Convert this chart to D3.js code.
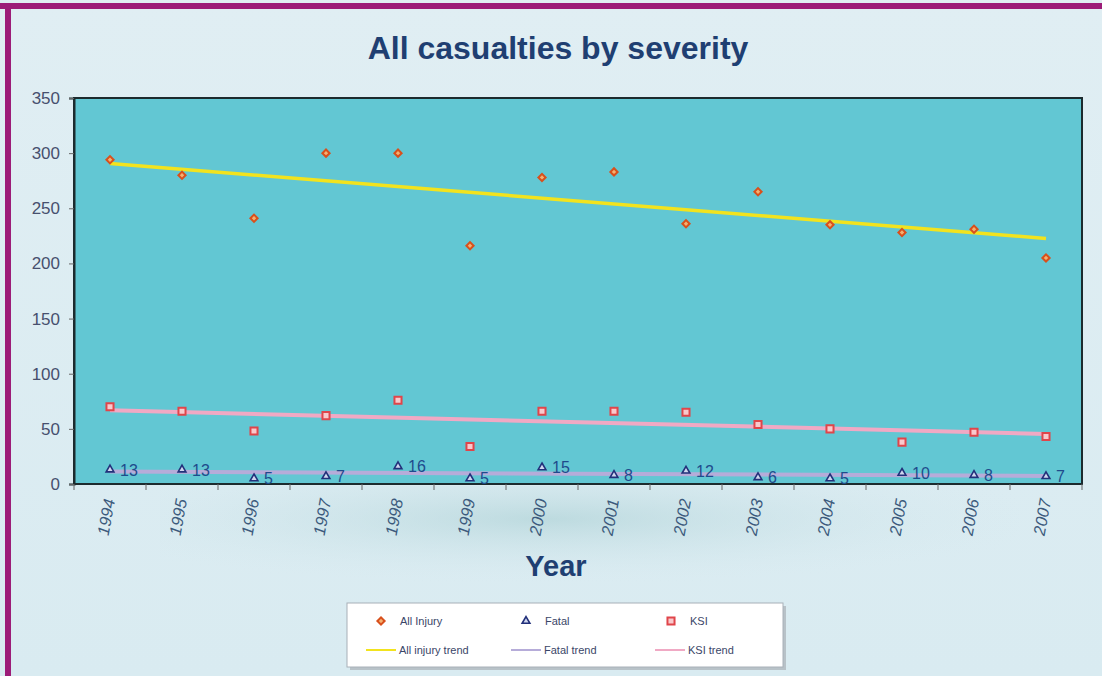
<!DOCTYPE html>
<html>
<head>
<meta charset="utf-8">
<script src="https://cdn.jsdelivr.net/npm/d3@7"></script>
<style>
  html, body { margin: 0; padding: 0; background: #ffffff; }
  svg { display: block; }
</style>
</head>
<body>
<svg id="chart" width="1102" height="676"></svg>
<script>
// Casualty counts per year
const years = ["1994","1995","1996","1997","1998","1999","2000","2001","2002","2003","2004","2005","2006","2007"];
const allInjury = [294, 280, 241, 300, 300, 216, 278, 283, 236, 265, 235, 228, 231, 205];
const ksi       = [70, 66, 48, 62, 76, 34, 66, 66, 65, 54, 50, 38, 47, 43];
const fatal     = [13, 13, 5, 7, 16, 5, 15, 8, 12, 6, 5, 10, 8, 7];
const yTicks    = [0, 50, 100, 150, 200, 250, 300, 350];

const svg = d3.select("#chart");
const W = 1102, H = 676;
const plot = { left: 74, right: 1082, top: 98, bottom: 484 };

// Page background with frame
const defs = svg.append("defs");
const bg = defs.append("linearGradient").attr("id", "bg").attr("x1", 0).attr("y1", 0).attr("x2", 0).attr("y2", 1);
bg.append("stop").attr("offset", "0%").attr("stop-color", "#e0eef3");
bg.append("stop").attr("offset", "100%").attr("stop-color", "#d9ebf1");
svg.append("rect").attr("width", W).attr("height", H).attr("fill", "url(#bg)");

// soft shade band under the x axis
const shade = defs.append("radialGradient").attr("id", "shade").attr("cx", "45%").attr("cy", "30%").attr("r", "60%");
shade.append("stop").attr("offset", "0%").attr("stop-color", "#a9cfd3").attr("stop-opacity", 0.6);
shade.append("stop").attr("offset", "100%").attr("stop-color", "#d9ebf1").attr("stop-opacity", 0);
svg.append("rect").attr("x", 160).attr("y", 486).attr("width", 860).attr("height", 110).attr("fill", "url(#shade)");

svg.append("rect").attr("x", 0).attr("y", 3).attr("width", W).attr("height", 6).attr("fill", "#9c1c78");
svg.append("rect").attr("x", 5).attr("y", 3).attr("width", 6).attr("height", H).attr("fill", "#9c1c78");

// Title
svg.append("text")
  .attr("x", 558).attr("y", 59)
  .attr("text-anchor", "middle")
  .attr("font-family", "Liberation Sans, Arial, sans-serif")
  .attr("font-weight", "bold").attr("font-size", 32)
  .attr("fill", "#1f3f72")
  .text("All casualties by severity");

// Scales
const x = d3.scaleBand().domain(years).range([plot.left, plot.right]);
const y = d3.scaleLinear().domain([0, 350]).range([plot.bottom, plot.top]);
const cx = d => x(d) + x.bandwidth() / 2;

// Plot area
svg.append("rect")
  .attr("x", plot.left).attr("y", plot.top)
  .attr("width", plot.right - plot.left).attr("height", plot.bottom - plot.top)
  .attr("fill", "#62c7d3").attr("stroke", "#1c2b2e").attr("stroke-width", 2);

// Y axis
const yAxis = svg.append("g")
  .attr("transform", `translate(${plot.left},0)`)
  .call(d3.axisLeft(y).tickValues(yTicks).tickSize(5).tickPadding(9));
yAxis.select(".domain").attr("stroke", "#1c2b2e").attr("stroke-width", 2);
yAxis.selectAll(".tick line").attr("stroke", "#666");
yAxis.selectAll("text")
  .attr("font-family", "Liberation Sans, Arial, sans-serif")
  .attr("font-size", 17).attr("fill", "#47506e");

// X axis: ticks on band boundaries
const xAxis = svg.append("g").attr("transform", `translate(0,${plot.bottom})`);
xAxis.append("line").attr("x1", plot.left).attr("x2", plot.right)
  .attr("stroke", "#1c2b2e").attr("stroke-width", 2);
const bounds = years.map(d => x(d)).concat([plot.right]);
xAxis.selectAll(".bt").data(bounds).join("line")
  .attr("x1", d => d).attr("x2", d => d).attr("y1", 0).attr("y2", 6)
  .attr("stroke", "#666");
xAxis.selectAll(".yl").data(years).join("text")
  .attr("transform", d => `translate(${cx(d) + 5},${16}) rotate(-80)`)
  .attr("text-anchor", "end")
  .attr("font-family", "Liberation Sans, Arial, sans-serif")
  .attr("font-style", "italic")
  .attr("font-size", 16.5).attr("fill", "#3c5a7c")
  .text(d => d);

svg.append("text")
  .attr("x", 556).attr("y", 576)
  .attr("text-anchor", "middle")
  .attr("font-family", "Liberation Sans, Arial, sans-serif")
  .attr("font-weight", "bold").attr("font-size", 29)
  .attr("fill", "#1f3f72")
  .text("Year");

// Least-squares trend of a series across the year index
function trend(vals) {
  const n = vals.length;
  const mx = d3.mean(vals, (_, i) => i), my = d3.mean(vals);
  let sxy = 0, sxx = 0;
  vals.forEach((v, i) => { sxy += (i - mx) * (v - my); sxx += (i - mx) * (i - mx); });
  const b = sxy / sxx, a = my - b * mx;
  return [[years[0], a], [years[n - 1], a + b * (n - 1)]];
}
const line = d3.line().x(d => cx(d[0])).y(d => y(d[1]));

svg.append("path").datum(trend(fatal)).attr("d", line)
  .attr("stroke", "#b6acd9").attr("stroke-width", 4).attr("fill", "none");
svg.append("path").datum(trend(ksi)).attr("d", line)
  .attr("stroke", "#f0a9c4").attr("stroke-width", 4).attr("fill", "none");
svg.append("path").datum(trend(allInjury)).attr("d", line)
  .attr("stroke", "#f2e31e").attr("stroke-width", 3.5).attr("fill", "none");

// Markers
const diamond = d3.symbol().type(d3.symbolSquare).size(26);
const square = d3.symbol().type(d3.symbolSquare).size(50);
const tri = d3.symbol().type(d3.symbolTriangle).size(26);

svg.append("g").selectAll("path").data(allInjury).join("path")
  .attr("d", diamond)
  .attr("transform", (d, i) => `translate(${cx(years[i])},${y(d)}) rotate(45)`)
  .attr("fill", "#f5b070").attr("stroke", "#d8501c").attr("stroke-width", 2);

svg.append("g").selectAll("path").data(ksi).join("path")
  .attr("d", square)
  .attr("transform", (d, i) => `translate(${cx(years[i])},${y(d)})`)
  .attr("fill", "#f9c9cc").attr("stroke", "#e0454a").attr("stroke-width", 2);

svg.append("g").selectAll("path").data(fatal).join("path")
  .attr("d", tri)
  .attr("transform", (d, i) => `translate(${cx(years[i])},${y(d)})`)
  .attr("fill", "#cfd6ee").attr("stroke", "#22307a").attr("stroke-width", 1.6);

svg.append("g").selectAll("text").data(fatal).join("text")
  .attr("x", (d, i) => cx(years[i]) + 10)
  .attr("y", d => y(d) + 6)
  .attr("font-family", "Liberation Sans, Arial, sans-serif")
  .attr("font-size", 16).attr("fill", "#1f4b8c")
  .text(d => d);

// Legend
const lg = svg.append("g");
lg.append("rect").attr("x", 350).attr("y", 606).attr("width", 436).attr("height", 64)
  .attr("fill", "#b8c2c8");
lg.append("rect").attr("x", 347).attr("y", 603).attr("width", 436).attr("height", 64)
  .attr("fill", "#ffffff").attr("stroke", "#a8b0b8").attr("stroke-width", 1);

const legendFont = { family: "Liberation Sans, Arial, sans-serif", size: 11, color: "#3a4668" };
const legendMarks = [
  { label: "All Injury", x: 381, sym: diamond, rot: 45, fill: "#f5b070", stroke: "#d8501c", sw: 2 },
  { label: "Fatal", x: 526, sym: tri, rot: 0, fill: "#cfd6ee", stroke: "#22307a", sw: 1.6 },
  { label: "KSI", x: 671, sym: square, rot: 0, fill: "#f9c9cc", stroke: "#e0454a", sw: 2 }
];
legendMarks.forEach(m => {
  lg.append("path").attr("d", m.sym).attr("transform", `translate(${m.x},${621}) rotate(${m.rot})`)
    .attr("fill", m.fill).attr("stroke", m.stroke).attr("stroke-width", m.sw);
  lg.append("text").attr("x", m.x + 19).attr("y", 625)
    .attr("font-family", legendFont.family).attr("font-size", legendFont.size)
    .attr("fill", legendFont.color).text(m.label);
});
const legendLines = [
  { label: "All injury trend", x: 366, color: "#f2e31e" },
  { label: "Fatal trend", x: 511, color: "#b6acd9" },
  { label: "KSI trend", x: 655, color: "#f0a9c4" }
];
legendLines.forEach(m => {
  lg.append("line").attr("x1", m.x).attr("x2", m.x + 30).attr("y1", 650).attr("y2", 650)
    .attr("stroke", m.color).attr("stroke-width", 2);
  lg.append("text").attr("x", m.x + 33).attr("y", 654)
    .attr("font-family", legendFont.family).attr("font-size", legendFont.size)
    .attr("fill", legendFont.color).text(m.label);
});
</script>
</body>
</html>
